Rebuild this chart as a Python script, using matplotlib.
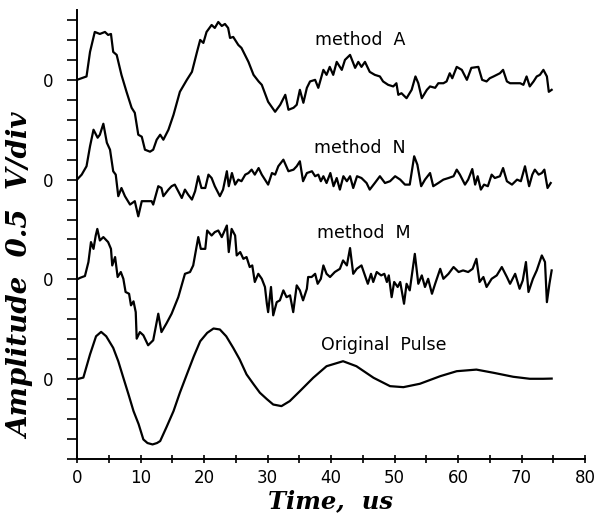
import numpy as np
import matplotlib
matplotlib.use('Agg')
from matplotlib import pyplot as plt
from matplotlib.ticker import FixedLocator, FixedFormatter, MultipleLocator

# Time (us) and amplitude (in divisions)
t_a = [0, 1.5, 2.05, 2.8, 3.6, 4.4, 4.9, 5.35, 5.7, 6.25,
       7.0, 7.8, 8.6, 9.1, 9.65, 10.2, 10.7, 11.5, 12.0, 12.55,
       13.1, 13.6, 14.4, 15.2, 16.2, 17.3, 18.1, 18.9, 19.4, 19.9,
       20.4, 21.2, 21.7, 22.25, 22.8, 23.3, 23.8, 24.1, 24.6, 25.4,
       25.9, 27.0, 27.8, 28.6, 29.1, 30.1, 31.2, 32.0, 32.8, 33.3,
       34.1, 34.6, 35.1, 35.65, 36.2, 36.7, 37.5, 38.0, 38.8, 39.3,
       39.8, 40.35, 40.9, 41.7, 42.2, 43.0, 43.8, 44.3, 44.8, 45.35,
       46.1, 46.9, 47.7, 48.2, 49.0, 49.8, 50.3, 50.6, 51.1, 51.9,
       52.7, 53.3, 53.75, 54.3, 55.1, 55.6, 56.4, 56.9, 57.7, 58.2,
       58.7, 59.1, 59.8, 60.6, 61.4, 62.1, 63.2, 63.8, 64.5, 65.0,
       65.6, 66.1, 66.6, 67.1, 67.7, 68.2, 69.0, 69.8, 70.3, 70.8,
       71.3, 71.9, 72.4, 72.9, 73.45, 74.0, 74.3, 74.75]
v_a = [0, 0.17, 1.4, 2.4, 2.3, 2.4, 2.25, 2.3, 1.4, 1.25,
       0.25, -0.6, -1.4, -1.65, -2.75, -2.85, -3.5, -3.6, -3.5, -3.0,
       -2.75, -3.0, -2.5, -1.75, -0.6, 0, 0.4, 1.4, 2.0, 1.85,
       2.4, 2.75, 2.6, 2.9, 2.7, 2.8, 2.6, 2.1, 2.15, 1.75,
       1.6, 0.9, 0.25, -0.08, -0.25, -1.1, -1.6, -1.25, -0.75, -1.5,
       -1.4, -1.25, -0.5, -1.15, -0.4, -0.08, 0, -0.4, 0.5, 0.25,
       0.65, 0.25, 0.9, 0.5, 1.0, 1.25, 0.6, 0.9, 0.65, 0.9,
       0.4, 0.25, 0.17, -0.08, -0.25, -0.33, -0.17, -0.75, -0.67, -0.92,
       -0.5, 0.17, -0.17, -0.92, -0.5, -0.33, -0.4, -0.17, -0.17, -0.08,
       0.33, 0.08, 0.65, 0.5, 0, 0.6, 0.65, 0, -0.08, 0.08,
       0.17, 0.25, 0.33, 0.5, -0.08, -0.17, -0.17, -0.17, -0.25, 0.17,
       -0.33, -0.08, 0.17, 0.25, 0.5, 0.17, -0.6, -0.5]

t_n = [0, 0.74, 1.5, 2.05, 2.6, 3.25, 3.6, 4.15, 4.7, 5.2,
       5.7, 6.1, 6.5, 7.0, 7.55, 8.35, 9.1, 9.65, 10.2, 11.0,
       11.75, 12.0, 12.8, 13.3, 13.6, 14.4, 14.9, 15.4, 15.95, 16.5,
       17.0, 17.5, 18.1, 18.6, 19.1, 19.6, 20.2, 20.7, 21.2, 21.7,
       22.5, 23.0, 23.6, 23.9, 24.4, 24.9, 25.4, 25.9, 26.5, 27.0,
       27.5, 28.0, 28.6, 29.1, 29.6, 30.1, 30.7, 31.2, 31.7, 32.5,
       33.3, 34.1, 34.6, 35.1, 35.6, 36.2, 37.0, 37.5, 38.0, 38.4,
       38.8, 39.3, 39.9, 40.4, 40.9, 41.4, 41.95, 42.5, 43.0, 43.5,
       44.1, 44.8, 45.6, 46.1, 46.9, 47.7, 48.5, 49.3, 50.1, 50.9,
       51.65, 52.4, 53.1, 53.6, 54.2, 54.8, 55.6, 56.1, 56.9, 57.7,
       58.5, 59.3, 59.8, 60.3, 61.1, 61.6, 62.25, 62.7, 63.1, 63.6,
       64.1, 64.7, 65.3, 65.8, 66.6, 67.1, 67.7, 68.5, 69.3, 69.9,
       70.55, 71.2, 71.7, 72.1, 72.7, 73.2, 73.6, 74.1, 74.6]
v_n = [0, 0.25, 0.67, 1.67, 2.5, 2.1, 2.25, 2.8, 1.85, 1.5,
       0.42, 0.25, -0.83, -0.42, -0.83, -1.25, -1.08, -1.84, -1.08, -1.08,
       -1.08, -1.25, -0.33, -0.42, -0.83, -0.5, -0.33, -0.25, -0.58, -0.92,
       -0.5, -0.75, -1.0, -0.58, 0.17, -0.42, -0.42, 0.25, 0.08, -0.33,
       -0.83, -0.5, 0.42, -0.33, 0.33, -0.25, 0, -0.08, 0.25, 0.33,
       0.5, 0.25, 0.58, 0.25, 0, -0.25, 0.33, 0.25, 0.67, 1.0,
       0.42, 0.5, 0.67, 0.92, -0.08, 0.33, 0.42, 0.17, 0.25, -0.08,
       0.17, -0.17, 0.33, -0.33, 0.08, -0.5, 0.17, -0.08, 0.17, -0.42,
       0.17, 0.08, -0.17, -0.5, -0.17, 0.17, -0.17, -0.08, 0.17, 0,
       -0.25, -0.25, 1.17, 0.75, -0.33, 0, 0.33, -0.33, -0.17, 0,
       0.08, 0.17, 0.5, 0.25, -0.25, 0, 0.53, -0.25, 0.17, -0.5,
       -0.25, -0.33, 0.25, 0.08, 0.17, 0.58, -0.08, -0.25, 0, -0.08,
       0.67, -0.33, 0.25, 0.5, 0.25, 0.33, 0.5, -0.42, -0.17]

t_m = [0, 0.5, 1.25, 1.8, 2.2, 2.6, 2.95, 3.2, 3.6, 4.15,
       4.9, 5.35, 5.55, 6.0, 6.4, 6.9, 7.3, 7.65, 8.2, 8.5,
       8.9, 9.25, 9.4, 9.9, 10.45, 11.2, 12.0, 12.8, 13.3, 14.1,
       14.9, 15.95, 17.0, 17.8, 18.3, 19.1, 19.5, 20.2, 20.5, 21.2,
       21.7, 22.25, 22.8, 23.6, 23.9, 24.35, 24.9, 25.15, 25.7, 26.2,
       26.7, 27.2, 27.6, 28.0, 28.55, 29.1, 29.6, 29.9, 30.1, 30.55,
       30.9, 31.45, 31.95, 32.5, 33.0, 33.55, 34.05, 34.6, 35.1, 35.6,
       36.2, 36.4, 36.95, 37.5, 37.9, 38.4, 38.8, 39.3, 39.85, 40.6,
       41.4, 41.9, 42.5, 43.0, 43.5, 44.05, 44.8, 45.35, 45.8, 46.3,
       46.65, 47.2, 47.9, 48.4, 48.8, 49.1, 49.55, 49.95, 50.5, 50.9,
       51.5, 51.9, 52.4, 53.2, 53.75, 54.3, 54.8, 55.3, 55.9, 56.4,
       57.2, 57.7, 58.5, 59.3, 60.1, 60.8, 61.6, 62.3, 62.9, 63.4,
       64.0, 64.5, 65.3, 66.1, 66.9, 67.7, 68.2, 69.0, 69.7, 70.2,
       70.7, 71.1, 71.8, 72.4, 73.2, 73.7, 74.0, 74.4, 74.75]
v_m = [0, 0.08, 0.17, 0.87, 1.87, 1.53, 2.2, 2.53, 1.95, 2.12,
       1.87, 1.53, 0.7, 1.12, 0.12, 0.37, 0.03, -0.63, -0.72, -1.3,
       -1.1, -1.64, -2.97, -2.64, -2.8, -3.3, -3.05, -1.72, -2.64, -2.2,
       -1.72, -0.89, 0.28, 0.37, 0.7, 2.12, 1.53, 1.53, 2.45, 2.2,
       2.37, 2.45, 2.12, 2.7, 1.37, 2.53, 2.2, 1.2, 1.37, 1.03,
       1.12, 0.62, 0.7, -0.13, 0.28, 0.03, -0.38, -1.22, -1.64, -0.38,
       -1.8, -1.14, -1.05, -0.55, -0.89, -0.8, -1.64, -0.3, -0.55, -1.05,
       -0.47, 0.12, 0.12, 0.28, -0.22, 0.03, 0.7, 0.28, 0.12, 0.37,
       0.53, 0.95, 0.7, 1.57, 0.28, 0.53, 0.7, 0.2, -0.22, 0.28,
       -0.13, 0.37, 0.2, 0.28, -0.13, 0.2, -0.89, -0.13, -0.38, -0.13,
       -1.22, -0.22, -0.55, 1.28, -0.22, 0.2, -0.38, 0.03, -0.72, -0.22,
       0.53, 0.03, 0.28, 0.62, 0.37, 0.45, 0.37, 0.53, 1.03, -0.13,
       0.12, -0.38, 0.03, 0.2, 0.62, 0.12, -0.22, 0.28, -0.47, -0.05,
       0.87, -0.63, 0.03, 0.45, 1.2, 0.87, -1.14, -0.22, 0.45]

t_o = [0, 1.0, 2.05, 3.0, 3.8, 4.6, 5.7, 6.5, 7.3, 8.1,
       8.9, 9.7, 10.45, 11.1, 11.9, 12.6, 13.1, 14.1, 15.2, 16.2,
       17.3, 18.4, 19.4, 20.5, 21.5, 22.5, 23.5, 24.6, 25.6, 26.7,
       27.8, 28.8, 29.9, 30.9, 32.2, 33.5, 35.1, 37.2, 39.3, 41.9,
       44.0, 46.7, 49.3, 51.4, 54.0, 57.2, 59.8, 62.9, 65.6, 68.7,
       71.3, 73.4, 74.75]
v_o = [0, 0.08, 1.24, 2.15, 2.37, 2.15, 1.57, 0.9, 0.07, -0.75,
       -1.6, -2.25, -3.02, -3.2, -3.27, -3.2, -3.1, -2.4, -1.6, -0.68,
       0.24, 1.15, 1.9, 2.32, 2.54, 2.49, 2.15, 1.57, 1.0, 0.24,
       -0.25, -0.68, -1.0, -1.27, -1.35, -1.1, -0.6, 0.07, 0.65, 0.9,
       0.65, 0.07, -0.35, -0.4, -0.23, 0.15, 0.4, 0.48, 0.32, 0.12,
       0.02, 0.02, 0.03]

names = ['method  A', 'method  N', 'method  M', 'Original  Pulse']
offsets = [19, 14, 9, 4]
label_pos = [(37.5, 21.0), (37.3, 15.6), (37.8, 11.35), (38.5, 5.7)]

fig = plt.figure(figsize=(5.95, 5.13), dpi=100)
ax = fig.add_axes([77/595, 1 - 459/513, 508/595, 449/513])

traces = [(t_a, v_a), (t_n, v_n), (t_m, v_m), (t_o, v_o)]
for (t, v), off, name, (lx, ly) in zip(traces, offsets, names, label_pos):
    ax.plot(t, np.array(v) + off, color='black', linewidth=1.6)
    ax.text(lx, ly, name, fontsize=12.5, family='DejaVu Sans', va='center', ha='left')

ax.set_xlim(0, 80)
ax.set_ylim(0, 22.5)
ax.spines['top'].set_visible(False)
ax.spines['right'].set_visible(False)
ax.spines['left'].set_linewidth(1.4)
ax.spines['bottom'].set_linewidth(1.4)

ax.xaxis.set_major_locator(MultipleLocator(10))
ax.xaxis.set_minor_locator(MultipleLocator(5))
ax.tick_params(axis='x', which='both', direction='inout', length=6, width=1.2, labelsize=12, pad=4)

yticks = list(range(0, 23))
ylabels = ['0' if y in offsets else '' for y in yticks]
ax.yaxis.set_major_locator(FixedLocator(yticks))
ax.yaxis.set_major_formatter(FixedFormatter(ylabels))
ax.tick_params(axis='y', direction='out', length=7, width=1.2, labelsize=12, pad=10)

ax.set_xlabel('Time,  us', fontsize=17.5, family='DejaVu Serif', style='italic', weight='bold', labelpad=2)
fig.text(22/595, 1 - 276/513, 'Amplitude  0.5  V/div', rotation=90, fontsize=20,
         family='DejaVu Serif', style='italic', weight='bold', ha='center', va='center')

plt.savefig('out.png', dpi=100)
